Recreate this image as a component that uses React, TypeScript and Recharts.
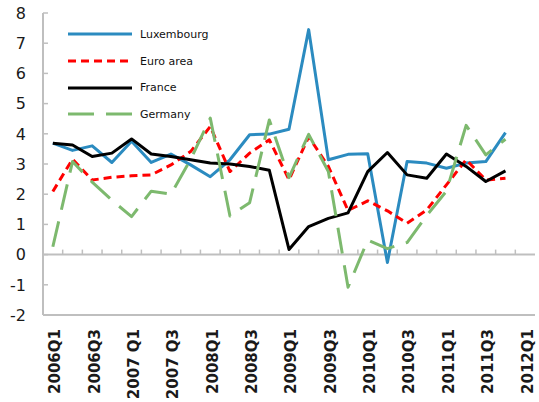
import React from 'react';
import { ComposedChart, Line, XAxis, YAxis, ReferenceLine, Legend } from 'recharts';

const quarters = [
  '2006Q1', '2006Q2', '2006Q3', '2006Q4',
  '2007 Q1', '2007 Q2', '2007 Q3', '2007 Q4',
  '2008Q1', '2008Q2', '2008Q3', '2008Q4',
  '2009Q1', '2009Q2', '2009Q3', '2009Q4',
  '2010Q1', '2010Q2', '2010Q3', '2010Q4',
  '2011Q1', '2011Q2', '2011Q3', '2011Q4',
  '2012Q1',
];

const luxembourg = [3.69, 3.45, 3.6, 3.05, 3.75, 3.05, 3.33, 2.97, 2.58, 3.14, 3.97, 3.99, 4.15, 7.45, 3.14, 3.32, 3.34, -0.26, 3.08, 3.03, 2.86, 3.03, 3.08, 4.04];
const euroArea = [2.09, 3.16, 2.47, 2.56, 2.61, 2.64, 2.97, 3.41, 4.24, 2.75, 3.36, 3.8, 2.48, 3.9, 2.92, 1.46, 1.78, 1.45, 1.04, 1.48, 2.31, 3.14, 2.47, 2.53];
const france = [3.69, 3.63, 3.25, 3.36, 3.83, 3.33, 3.25, 3.14, 3.03, 3.0, 2.92, 2.79, 0.17, 0.93, 1.2, 1.38, 2.75, 3.38, 2.64, 2.53, 3.33, 2.92, 2.42, 2.77];
const germany = [0.26, 3.08, 2.4, 1.8, 1.26, 2.1, 2.0, 3.15, 4.52, 1.28, 1.72, 4.46, 2.55, 3.98, 2.75, -1.08, 0.48, 0.2, 0.4, 1.3, 2.1, 4.28, 3.3, 3.82];

const yTicks = [-2, -1, 0, 1, 2, 3, 4, 5, 6, 7, 8];

const series = [
  { key: 'lux', name: 'Luxembourg', color: '#2B8BC0', dash: undefined as string | undefined },
  { key: 'ea', name: 'Euro area', color: '#FF0000', dash: '8 5' },
  { key: 'fr', name: 'France', color: '#000000', dash: undefined as string | undefined },
  { key: 'de', name: 'Germany', color: '#7DB96E', dash: '26 12' },
];

const data = quarters.map((q, i) => ({
  q,
  lux: luxembourg[i] ?? null,
  ea: euroArea[i] ?? null,
  fr: france[i] ?? null,
  de: germany[i] ?? null,
}));

const AXIS_GRAY = '#bfbfbf';
const Y_TICK_MARGIN = 17;

const XTick = (props: any) => {
  const { x, y, payload } = props;
  return (
    <g transform={`translate(${x + 2}, ${y + 6}) rotate(-90)`}>
      <text x={0} y={0} dy="0.36em" textAnchor="end" fontFamily="DejaVu Sans" fontWeight="bold" fontSize={15} fill="#1a1a1a">
        {payload.value}
      </text>
    </g>
  );
};

const YTick = (props: any) => {
  const { x, y, payload } = props;
  const ax = x + Y_TICK_MARGIN;
  return (
    <g>
      <line x1={ax} x2={ax + 5} y1={y} y2={y} stroke={AXIS_GRAY} strokeWidth={1.5} />
      <text x={x} y={y} dy="0.36em" textAnchor="end" fontFamily="DejaVu Sans" fontSize={16} fill="#1a1a1a">
        {payload.value}
      </text>
    </g>
  );
};

const ZeroAxis = (props: any) => {
  const { x1, y1, x2, y2 } = props;
  const n = quarters.length;
  const step = (x2 - x1) / n;
  const ticks = [];
  for (let k = 1; k < n; k++) {
    const tx = x1 + k * step;
    ticks.push(<line key={k} x1={tx} x2={tx} y1={y1 - 5} y2={y1} stroke={AXIS_GRAY} strokeWidth={1.5} />);
  }
  return (
    <g>
      <line x1={x1} y1={y1} x2={x2} y2={y2} stroke={AXIS_GRAY} strokeWidth={2} />
      {ticks}
    </g>
  );
};

const LegendContent = () => (
  <div style={{ display: 'flex', flexDirection: 'column' }}>
    {series.map((s) => (
      <div key={s.key} style={{ display: 'flex', alignItems: 'center', height: 26.7 }}>
        <svg width={64} height={6} style={{ display: 'block' }}>
          <line x1={0} y1={3} x2={64} y2={3} stroke={s.color} strokeWidth={3} strokeDasharray={s.dash} />
        </svg>
        <span style={{ marginLeft: 8, fontFamily: 'DejaVu Sans', fontSize: 11, color: '#111', whiteSpace: 'nowrap' }}>{s.name}</span>
      </div>
    ))}
  </div>
);

export default function App() {
  return (
    <div style={{ position: 'absolute', left: 0, top: 0 }}>
      <ComposedChart width={539} height={402} data={data} margin={{ top: 13, right: 4, bottom: 0, left: 0 }}>
        <XAxis
          dataKey="q"
          scale="band"
          height={87}
          interval={1}
          tickLine={false}
          stroke={AXIS_GRAY}
          strokeWidth={2}
          tick={<XTick />}
        />
        <XAxis xAxisId="top" dataKey="q" scale="band" orientation="top" height={0} tick={false} tickLine={false} stroke={AXIS_GRAY} strokeWidth={2} />
        <YAxis
          domain={[-2, 8]}
          ticks={yTicks}
          width={43}
          tickSize={0}
          tickMargin={Y_TICK_MARGIN}
          stroke={AXIS_GRAY}
          strokeWidth={2}
          tick={<YTick />}
        />
        <YAxis yAxisId="right" orientation="right" domain={[-2, 8]} width={0} tick={false} tickLine={false} stroke={AXIS_GRAY} strokeWidth={2} />
        <ReferenceLine y={0} shape={<ZeroAxis />} />
        {series.map((s) => (
          <Line
            key={s.key}
            type="linear"
            dataKey={s.key}
            name={s.name}
            stroke={s.color}
            strokeWidth={3}
            strokeDasharray={s.dash}
            strokeLinejoin="round"
            dot={false}
            activeDot={false}
            isAnimationActive={false}
          />
        ))}
        <Legend
          layout="vertical"
          align="center"
          verticalAlign="middle"
          content={<LegendContent />}
          wrapperStyle={{ left: 68, top: 21, width: 'auto', height: 'auto' }}
        />
      </ComposedChart>
    </div>
  );
}
